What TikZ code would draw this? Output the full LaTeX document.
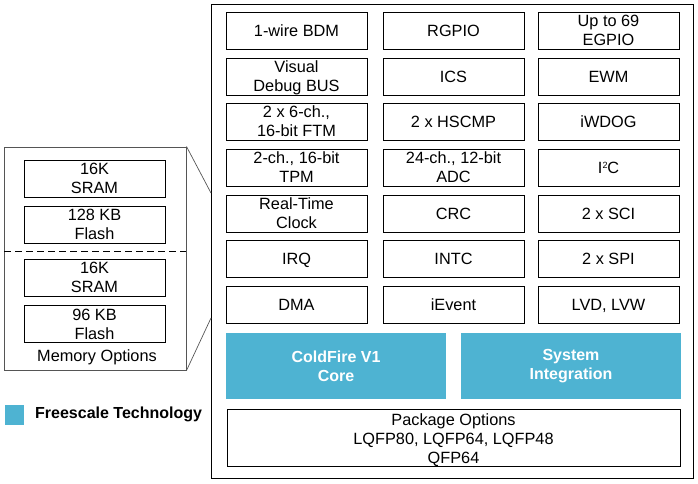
\documentclass[tikz,border=0pt]{standalone}
\usepackage{fontspec}
\setmainfont{Liberation Sans}
\definecolor{fsblue}{HTML}{4EB3D2}
\definecolor{memgray}{HTML}{555555}
\begin{document}
\begin{tikzpicture}[x=1pt,y=-1pt,
  blk/.style={draw=black,line width=1pt,minimum width=141pt,minimum height=37pt,inner sep=0pt,align=center,text depth=0pt,font=\fontsize{16.3}{19}\selectfont},
  core/.style={fill=fsblue,draw=none,minimum width=220pt,minimum height=66pt,inner sep=0pt,align=center,text=white,font=\fontsize{16}{19}\selectfont\bfseries},
  frame/.style={draw=black,line width=1pt,inner sep=0pt},
  memframe/.style={draw=memgray,line width=1pt,inner sep=0pt},
  zoomline/.style={draw=memgray,line width=0.7pt},
  lbl/.style={inner sep=0pt,font=\fontsize{16.3}{19}\selectfont}
]
\useasboundingbox (0,0) rectangle (698,483);
% main chip frame
\node[frame,minimum width=482pt,minimum height=474pt] (mcu) at (452,241) {};
% grid
\node[blk] (bdm)  at (296.5,30.5) {1-wire BDM};
\node[blk] (rgpio) at (453.5,30.5) {RGPIO};
\node[blk] (egpio) at (608.5,30.5) {Up to 69\\EGPIO};
\node[blk] (vdb)  at (296.5,76.5) {Visual\\Debug BUS};
\node[blk] (ics)  at (453.5,76.5) {ICS};
\node[blk] (ewm)  at (608.5,76.5) {EWM};
\node[blk] (ftm)  at (296.5,121.5) {2 x 6-ch.,\\16-bit FTM};
\node[blk] (cmp)  at (453.5,121.5) {2 x HSCMP};
\node[blk] (wdog) at (608.5,121.5) {iWDOG};
\node[blk] (tpm)  at (296.5,167.5) {2-ch., 16-bit\\TPM};
\node[blk] (adc)  at (453.5,167.5) {24-ch., 12-bit\\ADC};
\node[blk] (iic)  at (608.5,167.5) {I\kern0.3pt\raisebox{4.5pt}{\fontsize{9}{9}\selectfont 2}\kern-0.3ptC};
\node[blk] (rtc)  at (296.5,213.5) {Real-Time\\Clock};
\node[blk] (crc)  at (453.5,213.5) {CRC};
\node[blk] (sci)  at (608.5,213.5) {2 x SCI};
\node[blk] (irq)  at (296.5,258.5) {IRQ};
\node[blk] (intc) at (453.5,258.5) {INTC};
\node[blk] (spi)  at (608.5,258.5) {2 x SPI};
\node[blk] (dma)  at (296.5,304.5) {DMA};
\node[blk] (iev)  at (453.5,304.5) {iEvent};
\node[blk] (lvd)  at (608.5,304.5) {LVD, LVW};
% cores
\node[core] (cf)  at (336,366) {ColdFire V1\\Core};
\node[core] (sys) at (571,366) {System\\Integration};
% package
\node[blk,minimum width=453pt,minimum height=57pt] (pkg) at (453.5,437.5) {};
\node[lbl,align=center,text depth=0pt] (pkgtxt) at (453.5,439) {Package Options\\LQFP80, LQFP64, LQFP48\\QFP64};
% memory options
\node[memframe,minimum width=182pt,minimum height=223pt] (mem) at (95,258.5) {};
\node[blk] (sram1)  at (94.5,178.5) {16K\\SRAM};
\node[blk] (flash1) at (94.5,224.5) {128 KB\\Flash};
\node[blk] (sram2)  at (94.5,277.5) {16K\\SRAM};
\node[blk] (flash2) at (94.5,324) {96 KB\\Flash};
\node[lbl] (memlbl) at (97,357) {Memory Options};
\coordinate (dl) at (4,251);
\coordinate (dr) at (186,251);
\draw[line width=1pt,dash pattern=on 7pt off 4pt] (dl) -- (dr);
% zoom lines
\coordinate (zt) at (211,193);
\coordinate (zb) at (211,318);
\draw[zoomline] (mem.north east) -- (zt);
\draw[zoomline] (mem.south east) -- (zb);
% legend
\node[fill=fsblue,minimum width=19pt,minimum height=20pt,inner sep=0pt] (legsq) at (14.5,415) {};
\node[lbl,anchor=west,font=\fontsize{16}{18}\selectfont\bfseries] (legtxt) at (35,414) {Freescale Technology};
\end{tikzpicture}
\end{document}
